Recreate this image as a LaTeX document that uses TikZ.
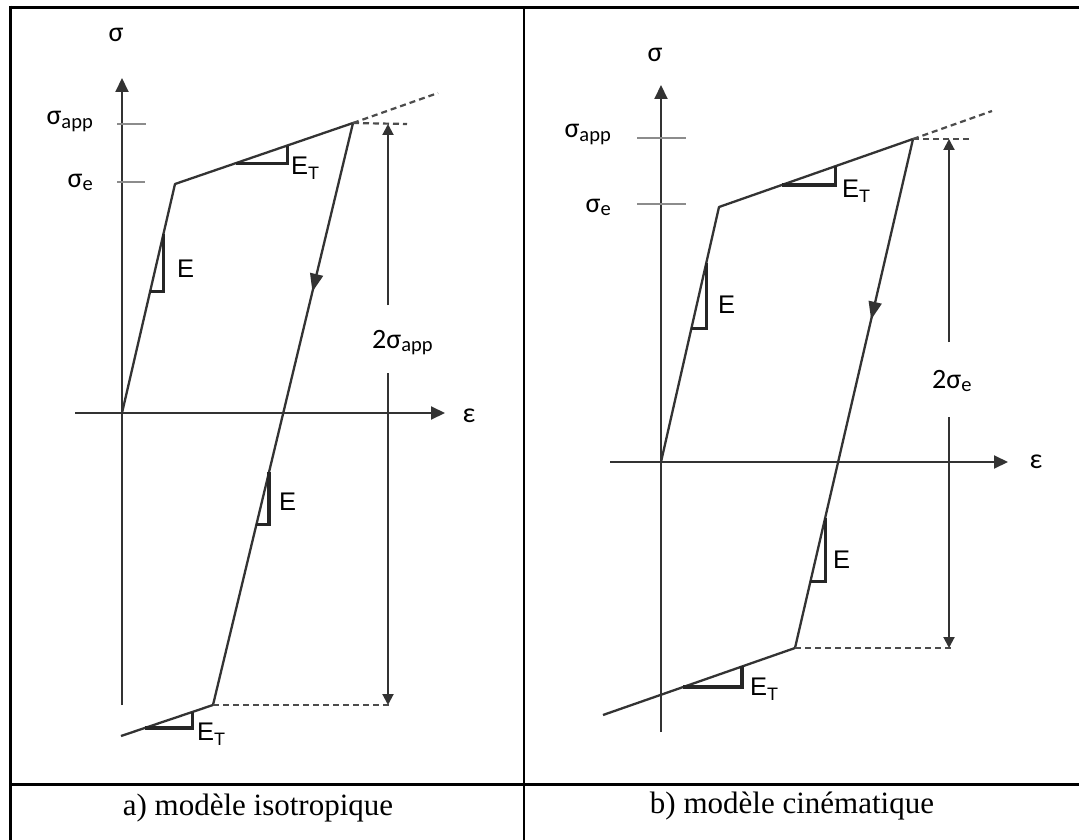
\documentclass[tikz,border=0pt]{standalone}
\usepackage{fontspec}
\setmainfont{Liberation Serif}
\newfontfamily\califont{Carlito}
\newfontfamily\arialfont{Liberation Sans}
\usetikzlibrary{arrows.meta,calc,decorations.markings}
\newcommand{\sigsub}[1]{σ\raisebox{-3.5pt}{\fontsize{20.5}{20.5}\selectfont #1}}
\newcommand{\ETlab}{E\raisebox{-5pt}{\fontsize{18}{18}\selectfont T}}
\begin{document}
\begin{tikzpicture}[x=1pt,y=-1pt,
  frame/.style={draw=black, line width=3.8pt},
  rule/.style={draw=black, line width=2.7pt},
  axis/.style={draw=black!80, line width=2pt, -{Triangle[length=14pt,width=13pt]}},
  curve/.style={draw=black!80, line width=2.3pt, line join=round},
  tickline/.style={draw=black!45, line width=1.5pt},
  tri/.style={draw=black!85, line width=3.2pt},
  dashline/.style={draw=black!70, line width=2.2pt, dash pattern=on 6pt off 4pt},
  dimarrow/.style={draw=black!80, line width=2pt, -{Triangle[length=11pt,width=11pt]}},
  midarrow/.style={postaction={decorate}, decoration={markings, mark=at position #1 with {\arrow{Triangle[length=18pt,width=13pt]}}}},
  glab/.style={font=\califont\fontsize{28}{28}\selectfont, inner sep=0pt},
  elab/.style={font=\arialfont\fontsize{25.5}{25.5}\selectfont, inner sep=0pt},
  captext/.style={font=\fontsize{31}{31}\selectfont, inner sep=0pt},
]
\useasboundingbox (0,0) rectangle (1079,840);
\fill[white] (0,0) rectangle (1079,840);

% ---------- table lines ----------
\coordinate (tl) at (10.5,5.6);
\coordinate (bl) at (10.5,840);
\coordinate (tt1) at (9,7.5);
\coordinate (tt2) at (1079,7.5);
\coordinate (m1) at (524,7.5);
\coordinate (m2) at (524,840);
\coordinate (s1) at (10,784.7);
\coordinate (s2) at (1079,784.7);
\draw[frame] (tl) -- (bl);
\draw[frame] (tt1) -- (tt2);
\draw[rule] (m1) -- (m2);
\draw[rule] (s1) -- (s2);

% ================= (a) isotropic =================
\coordinate (aO) at (122,413);
\coordinate (aY) at (175,184);
\coordinate (aP) at (353,123);
\coordinate (aB) at (213,705);
\coordinate (aL) at (121,736);
\coordinate (aYax1) at (122,705);
\coordinate (aYax2) at (122,78);
\coordinate (aXax1) at (75,413);
\coordinate (aXax2) at (445,413);
\coordinate (aX1) at (438,93);
\coordinate (aX2) at (407,124);
\coordinate (aX3) at (392,705);
\coordinate (aT1) at (117,124);
\coordinate (aT2) at (146,124);
\coordinate (aT3) at (117,182);
\coordinate (aT4) at (145,182);
\coordinate (aD1) at (388,124);
\coordinate (aD2) at (388,305);
\coordinate (aD3) at (388,373);
\coordinate (aD4) at (388,705);

\draw[axis] (aYax1) -- (aYax2);
\draw[axis] (aXax1) -- (aXax2);
\draw[tickline] (aT1) -- (aT2);
\draw[tickline] (aT3) -- (aT4);
\draw[curve] (aO) -- (aY) -- (aP);
\draw[curve, midarrow=0.29] (aP) -- (aB);
\draw[curve] (aB) -- (aL);
\draw[dashline] (aP) -- (aX1);
\draw[dashline] (aP) -- (aX2);
\draw[dashline] (aB) -- (aX3);
\draw[dimarrow] (aD2) -- (aD1);
\draw[dimarrow] (aD3) -- (aD4);
\draw[tri] ($(aO)!0.78!(aY)$) |- ($(aO)!0.53!(aY)$);
\draw[tri] ($(aY)!0.34!(aP)$) -| ($(aY)!0.63!(aP)$);
\draw[tri] ($(aB)!0.40!(aP)$) |- ($(aB)!0.31!(aP)$);
\draw[tri] ($(aB)!0.74!(aL)$) -| ($(aB)!0.22!(aL)$);

\node[glab, anchor=base] (aSig) at (116,42) {σ};
\node[glab, anchor=base east] (aSapp) at (93,125) {\sigsub{app}};
\node[glab, anchor=base east] (aSe) at (93,187) {\sigsub{e}};
\node[glab, anchor=base] (aEps) at (469,422) {ε};
\node[glab, anchor=base west] (a2S) at (372,348) {2\sigsub{app}};
\node[elab, anchor=base west] (aE1) at (177,277) {E};
\node[elab, anchor=base west] (aET1) at (291,175) {\ETlab};
\node[elab, anchor=base west] (aE2) at (279,510) {E};
\node[elab, anchor=base west] (aET2) at (197,740) {\ETlab};
\node[captext, anchor=base] (aCap) at (258,815) {a) modèle isotropique};

% ================= (b) kinematic =================
\coordinate (bO) at (661,462);
\coordinate (bY) at (719,207);
\coordinate (bP) at (913,139);
\coordinate (bB) at (795,648);
\coordinate (bL) at (603,715);
\coordinate (bYax1) at (661,732);
\coordinate (bYax2) at (661,85);
\coordinate (bXax1) at (610,462);
\coordinate (bXax2) at (1008,462);
\coordinate (bX1) at (992,111);
\coordinate (bX2) at (970,139);
\coordinate (bX3) at (953,648);
\coordinate (bT1) at (637,138);
\coordinate (bT2) at (686,138);
\coordinate (bT3) at (637,204);
\coordinate (bT4) at (686,204);
\coordinate (bD1) at (949,139);
\coordinate (bD2) at (949,342);
\coordinate (bD3) at (949,417);
\coordinate (bD4) at (949,648);

\draw[axis] (bYax1) -- (bYax2);
\draw[axis] (bXax1) -- (bXax2);
\draw[tickline] (bT1) -- (bT2);
\draw[tickline] (bT3) -- (bT4);
\draw[curve] (bO) -- (bY) -- (bP);
\draw[curve, midarrow=0.355] (bP) -- (bB);
\draw[curve] (bB) -- (bL);
\draw[dashline] (bP) -- (bX1);
\draw[dashline] (bP) -- (bX2);
\draw[dashline] (bB) -- (bX3);
\draw[dimarrow] (bD2) -- (bD1);
\draw[dimarrow] (bD3) -- (bD4);
\draw[tri] ($(bO)!0.78!(bY)$) |- ($(bO)!0.525!(bY)$);
\draw[tri] ($(bY)!0.325!(bP)$) -| ($(bY)!0.6!(bP)$);
\draw[tri] ($(bB)!0.255!(bP)$) |- ($(bB)!0.13!(bP)$);
\draw[tri] ($(bB)!0.583!(bL)$) -| ($(bB)!0.276!(bL)$);

\node[glab, anchor=base] (bSig) at (655,62) {σ};
\node[glab, anchor=base east] (bSapp) at (611,138) {\sigsub{app}};
\node[glab, anchor=base east] (bSe) at (611,212) {\sigsub{e}};
\node[glab, anchor=base] (bEps) at (1036,468) {ε};
\node[glab, anchor=base west] (b2S) at (932,388) {2\sigsub{e}};
\node[elab, anchor=base west] (bE1) at (718,313) {E};
\node[elab, anchor=base west] (bET1) at (842,197) {\ETlab};
\node[elab, anchor=base west] (bE2) at (833,568) {E};
\node[elab, anchor=base west] (bET2) at (750,695) {\ETlab};
\node[captext, anchor=base] (bCap) at (792,813) {b) modèle cinématique};
\end{tikzpicture}
\end{document}
